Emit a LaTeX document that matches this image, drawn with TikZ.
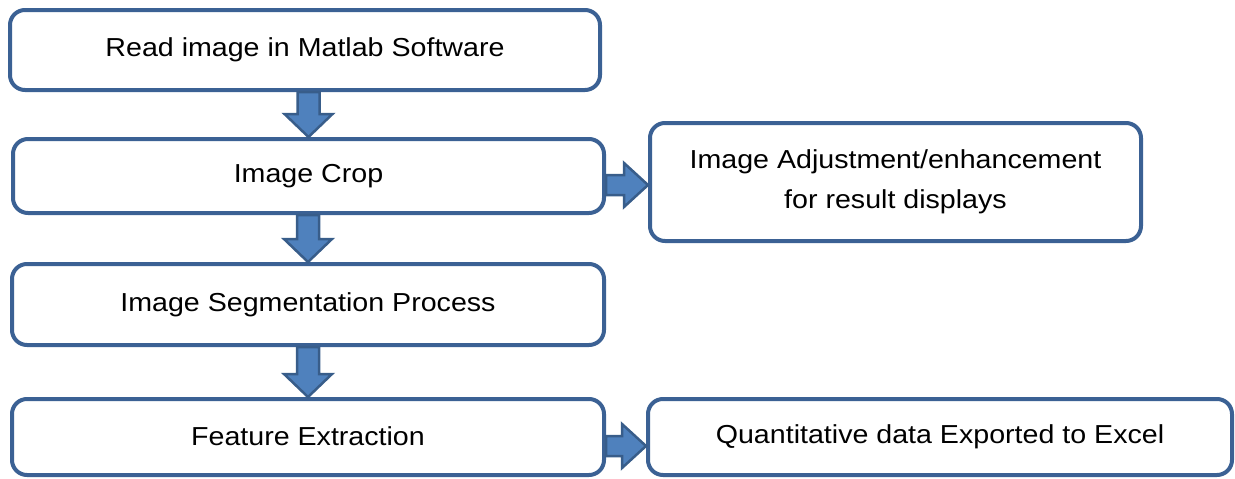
\documentclass[tikz,border=0pt]{standalone}
\usepackage{fontspec}
\setmainfont[FakeStretch=1.1]{Liberation Sans}
\usetikzlibrary{calc}
\definecolor{boxline}{HTML}{3B6194}
\definecolor{arrline}{HTML}{385D8A}
\definecolor{arrfill}{HTML}{4F81BD}
\tikzset{
  stepbox/.style={draw=boxline, line width=4pt, rounded corners=15pt, fill=white,
    inner sep=0pt, align=center, font=\fontsize{26}{40}\selectfont},
  blkarrow/.style={draw=arrline, fill=arrfill, line width=2.5pt, line join=miter},
}
\newcommand\up[1]{\raisebox{2.5pt}{#1}}
\newcommand\blkdown[2]{%
  \filldraw[blkarrow] let \p1=(#1.south), \p2=(#2.north) in
    (\x2-11pt,\y1) -- (\x2+11pt,\y1) -- (\x2+11pt,\y2+23pt) -- (\x2+24pt,\y2+23pt)
    -- (\x2,\y2) -- (\x2-24pt,\y2+23pt) -- (\x2-11pt,\y2+23pt) -- cycle;}
\newcommand\blkright[2]{%
  \filldraw[blkarrow] let \p1=(#1.east), \p2=(#2.west) in
    (\x1,\y1+1pt) -- (\x2-24pt,\y1+1pt) -- (\x2-24pt,\y1+13pt) -- (\x2,\y1-9pt)
    -- (\x2-24pt,\y1-31pt) -- (\x2-24pt,\y1-19pt) -- (\x1,\y1-19pt) -- cycle;}
\begin{document}
\begin{tikzpicture}[x=1pt,y=-1pt]
\useasboundingbox (0,0) rectangle (1235,479);
\node[stepbox, minimum width=590pt, minimum height=80pt] (b1) at (305,50) {\up{Read image in Matlab Software}};
\node[stepbox, minimum width=591pt, minimum height=74pt] (b2) at (308.5,176) {\up{Image Crop}};
\node[stepbox, minimum width=592pt, minimum height=81pt] (b3) at (308,304.5) {\up{Image Segmentation Process}};
\node[stepbox, minimum width=592pt, minimum height=76pt] (b4) at (308,437) {\up{Feature Extraction}};
\node[stepbox, minimum width=491pt, minimum height=118pt] (b5) at (895.5,182) {Image Adjustment/enhancement\\for result displays};
\node[stepbox, minimum width=584pt, minimum height=76pt] (b6) at (940,437) {\up{Quantitative data Exported to Excel}};
\blkdown{b1}{b2}
\blkdown{b2}{b3}
\blkdown{b3}{b4}
\blkright{b2}{b5}
\blkright{b4}{b6}
\end{tikzpicture}
\end{document}
